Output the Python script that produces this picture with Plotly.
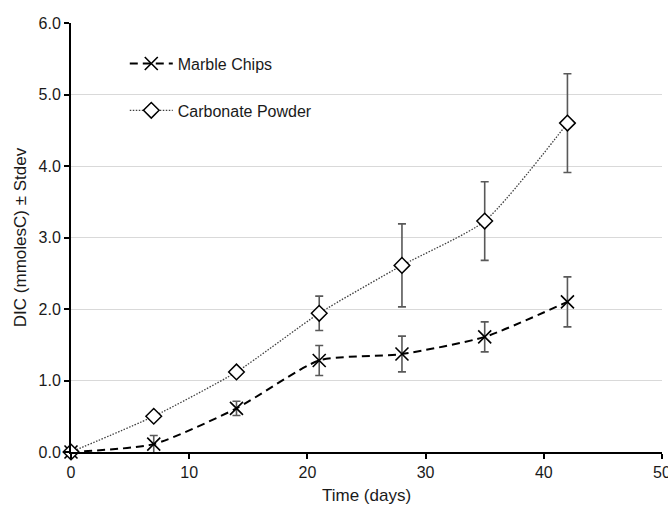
import plotly.graph_objects as go

days = [0, 7, 14, 21, 28, 35, 42]
marble = [0.0, 0.11, 0.61, 1.28, 1.37, 1.61, 2.10]
marble_sd = [0.0, 0.12, 0.10, 0.21, 0.25, 0.21, 0.35]
carbonate = [0.0, 0.50, 1.12, 1.94, 2.61, 3.23, 4.60]
carbonate_sd = [0.0, 0.02, 0.04, 0.24, 0.58, 0.55, 0.69]

FONT = "Liberation Sans, Arial, sans-serif"

fig = go.Figure()
fig.add_trace(go.Scatter(
    x=days, y=marble, name="Marble Chips", mode="lines+markers",
    legendgroup="a",
    line=dict(color="black", width=2, dash="8px,5px", shape="spline", smoothing=0.6),
    marker=dict(symbol="x-thin-open", size=13, color="black",
                line=dict(color="black", width=1.6)),
    error_y=dict(type="data", array=marble_sd, visible=True,
                 color="#595959", thickness=1.6, width=4),
    cliponaxis=False,
))
fig.add_trace(go.Scatter(
    x=days, y=carbonate, name="Carbonate Powder", mode="lines+markers",
    legendgroup="b",
    line=dict(color="#404040", width=1.3, dash="1.5px,1.5px", shape="spline", smoothing=0.6),
    marker=dict(symbol="diamond", size=12, color="white",
                line=dict(color="black", width=1.5)),
    error_y=dict(type="data", array=carbonate_sd, visible=True,
                 color="#595959", thickness=1.6, width=4),
    cliponaxis=False,
))

fig.update_layout(
    width=668, height=505,
    margin=dict(l=71, r=6, t=23, b=53, autoexpand=False),
    paper_bgcolor="white", plot_bgcolor="white",
    font=dict(family=FONT, size=16, color="#1a1a1a"),
    showlegend=True,
    legend=dict(x=0.091, y=0.945, xanchor="left", yanchor="top", itemwidth=43,
                bgcolor="rgba(0,0,0,0)", font=dict(size=16, color="#1a1a1a"),
                traceorder="grouped", tracegroupgap=23),
    shapes=[dict(type="rect", xref="paper", yref="paper",
                 x0=0.042, x1=0.455, y0=0.73, y1=0.96,
                 fillcolor="white", line=dict(width=0), layer="between")],
    xaxis=dict(range=[0, 50], tickvals=[0, 10, 20, 30, 40, 50],
               automargin=False,
               showgrid=False, zeroline=False, ticklabeloverflow="allow",
               showline=True, linecolor="black", linewidth=2,
               ticks="outside", ticklen=5, tickcolor="black", tickwidth=1.5,
               tickfont=dict(size=16),
               title=dict(text="Time (days)", font=dict(size=17), standoff=10)),
    yaxis=dict(range=[0, 6], tickvals=[0, 1, 2, 3, 4, 5, 6], tickformat=".1f",
               automargin=False,
               showgrid=True, gridcolor="#d9d9d9", gridwidth=1, zeroline=False,
               showline=True, linecolor="black", linewidth=2,
               ticks="outside", ticklen=5, tickcolor="black", tickwidth=1.5,
               tickfont=dict(size=16),
               title=dict(text="DIC (mmolesC) ± Stdev", font=dict(size=17), standoff=8)),
)

fig.write_html("out.html")
